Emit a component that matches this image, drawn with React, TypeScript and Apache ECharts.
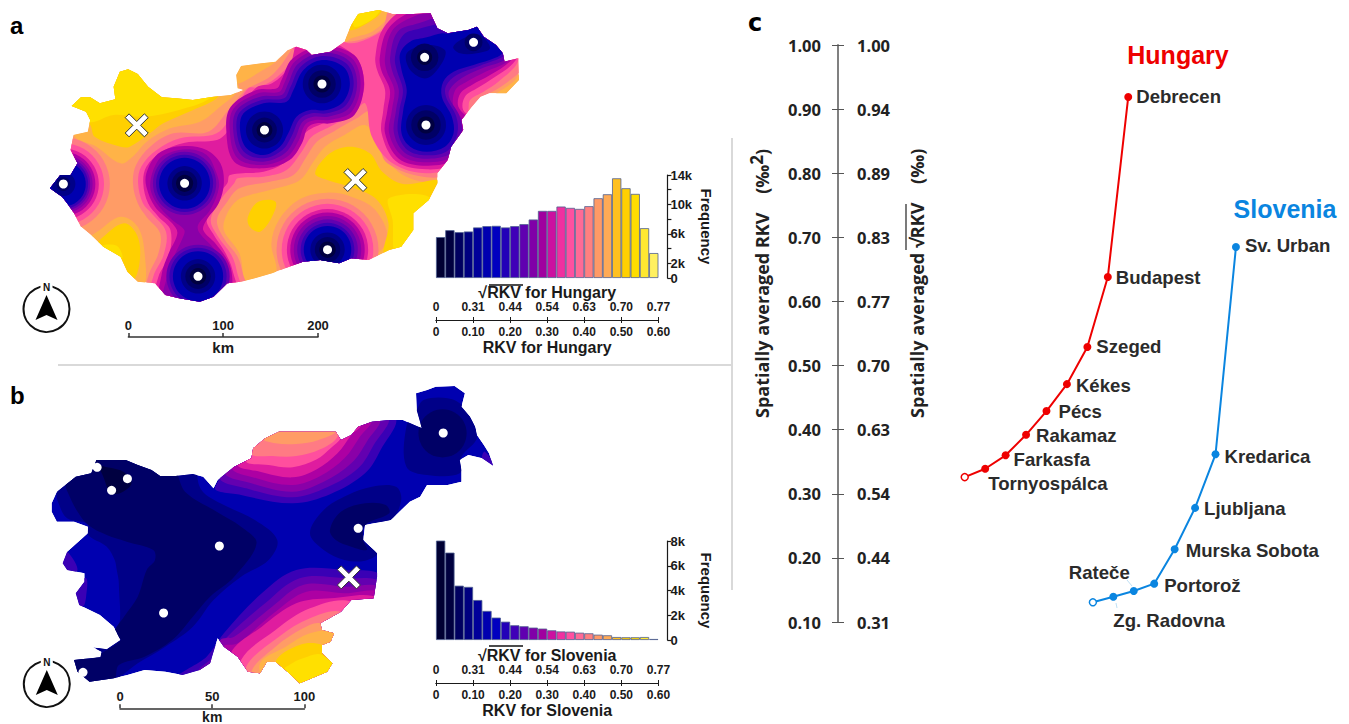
import React, { useEffect, useRef } from "react";
import * as echarts from "echarts";

// ---------- histogram data ----------
const BIN_EDGES = ["0","0.025","0.05","0.075","0.1","0.125","0.15","0.175","0.2","0.225","0.25","0.275","0.3","0.325","0.35","0.375","0.4","0.425","0.45","0.475","0.5","0.525","0.55","0.575"];
const HU_FREQ = [5560,6500,6230,6320,6870,7050,7090,6870,7050,7320,7950,9120,9120,9710,9530,9390,9760,10840,11380,13550,12200,11430,6770,3390];
const SL_FREQ = [8030,7060,4390,4290,3230,2350,1810,1480,1190,1110,1000,920,780,690,670,590,540,430,380,240,220,220,240,80];
const HU_FREQ_TICKS = ["0","2k","","6k","","10k","","14k"];
const SL_FREQ_TICKS = ["0","2k","4k","6k","8k"];
const SQRT_TICKS = ["0","0.31","0.44","0.54","0.63","0.70","0.77"];
const RKV_TICKS = ["0","0.10","0.20","0.30","0.40","0.50","0.60"];

// ---------- panel c ----------
const RIGHT_TICKS = ["0.31","0.44","0.54","0.63","0.70","0.77","0.83","0.89","0.94","1.00"];
const HU_STATIONS = ["","Tornyospálca","Farkasfa","Rakamaz","Pécs","Kékes","Szeged","Budapest","Debrecen"];
const HU_RANK = [6.2,7.2,8.2,9.2,10.2,11.2,12.2,13.2,14.2];
const HU_RKV = [0.326,0.339,0.360,0.392,0.429,0.471,0.529,0.638,0.919];
const SL_STATIONS = ["","Zg. Radovna","Rateče","Portorož","Murska Sobota","Ljubljana","Kredarica","Sv. Urban"];
const SL_RANK = [12.47,13.47,14.47,15.47,16.47,17.47,18.47,19.47];
const SL_RKV = [0.1307,0.1395,0.1483,0.1598,0.2134,0.278,0.3616,0.685];

// ---------- maps (map units) ----------
const HU_OUTLINE = [[145,565],[175,525],[205,525],[225,490],[205,450],[213,405],[255,395],[262,360],[250,335],[208,318],[235,292],[262,292],[290,310],[335,298],[330,260],[348,215],[372,208],[400,222],[430,260],[470,292],[510,295],[560,300],[620,290],[670,285],[705,270],[690,265],[686,225],[700,198],[760,190],[800,185],[835,150],[860,140],[890,150],[905,165],[960,155],[1000,125],[1020,75],[1040,42],[1100,30],[1140,42],[1200,42],[1250,40],[1270,85],[1300,100],[1360,90],[1385,80],[1405,110],[1440,135],[1460,160],[1465,185],[1505,175],[1507,240],[1470,280],[1420,280],[1395,290],[1370,320],[1340,360],[1345,390],[1310,440],[1300,480],[1270,520],[1270,550],[1245,600],[1200,640],[1200,690],[1165,740],[1130,750],[1070,780],[1020,775],[985,790],[930,780],[880,785],[840,800],[790,820],[740,835],[700,845],[660,850],[620,890],[580,905],[520,895],[480,885],[450,850],[400,845],[370,815],[350,770],[300,740],[270,710],[235,680],[215,640],[195,610],[180,590]];
const HU_POLYS = [
  [13,[[213,405],[280,440],[350,490],[385,470],[426,425],[494,385],[581,365],[639,320],[692,270],[680,240],[340,190],[200,280]]],
  [14,[[200,300],[262,375],[275,410],[350,440],[377,440],[435,400],[474,370],[561,330],[629,295],[640,260],[340,190]]],
  [15,[[190,290],[255,365],[330,345],[420,350],[520,330],[610,295],[620,260],[340,190]]],
  [13,[[290,690],[350,650],[400,680],[420,760],[415,860],[340,830],[260,720]]],
  [14,[[290,720],[360,670],[400,710],[405,790],[385,840],[340,790],[280,740]]],
  [15,[[295,738],[340,738],[355,775],[320,765]]],
  [13,[[690,600],[726,585],[803,565],[871,540],[910,485],[944,440],[1000,405],[1060,375],[1095,420],[1125,480],[1170,525],[1240,548],[1290,545],[1300,800],[1070,800],[1125,720],[1090,630],[1020,590],[950,578],[870,598],[810,660],[788,730],[800,820],[720,860],[695,760],[650,690],[660,640]]],
  [14,[[915,520],[958,460],[1016,440],[1074,460],[1110,515],[1170,552],[1290,550],[1280,780],[1120,770],[1128,670],[1095,600],[1030,565],[950,540]]],
  [14,[[720,650],[750,605],[800,605],[790,650],[755,695],[725,680]]],
  [15,[[1130,595],[1250,595],[1220,700],[1150,760],[1140,660]]],
  [13,[[1000,130],[1040,20],[1140,20],[1125,55],[1080,95],[1020,115]]],
  [14,[[1015,90],[1030,20],[1110,20],[1095,50]]],
  [15,[[1028,80],[1040,20],[1105,20],[1085,55]]],
  [13,[[680,250],[760,212],[815,170],[820,130],[680,170]]],
  [13,[[1428,295],[1491,245],[1515,215],[1520,300]]],
  [11,[[711,270],[663,330],[605,395],[503,400],[436,440],[395,495],[386,550],[400,610],[425,650],[465,700],[460,760],[430,830],[425,900],[720,900],[705,820],[690,770],[650,715],[630,660],[660,605],[695,565],[784,545],[852,525],[890,470],[920,425],[968,395],[1036,355],[1075,335],[1100,430],[1125,490],[1239,532],[1320,510],[1384,310],[1413,285],[1462,255],[1520,195],[1520,20],[1140,20],[1110,85],[1060,115],[1000,125],[960,110],[850,120],[845,150],[790,225],[725,262]]],
  [10,[[721,265],[682,330],[629,400],[523,415],[455,450],[410,500],[401,550],[415,610],[440,640],[482,695],[475,765],[445,830],[440,900],[700,900],[688,815],[672,765],[632,708],[612,660],[640,600],[680,550],[690,535],[765,530],[832,510],[876,455],[905,410],[958,380],[1021,345],[1060,310],[1080,410],[1140,490],[1239,520],[1320,490],[1360,330],[1365,300],[1404,275],[1447,245],[1505,180],[1510,20],[1180,20],[1135,70],[1090,105],[1020,130],[960,110],[850,120],[855,170],[800,235],[750,262]]],
  [9,[[745,262],[700,325],[660,395],[630,420],[537,428],[470,455],[425,500],[416,550],[430,610],[460,650],[495,690],[490,770],[460,830],[455,900],[685,900],[675,810],[655,760],[618,700],[600,660],[620,600],[660,550],[668,525],[765,515],[823,490],[861,440],[890,395],[949,365],[1007,335],[1045,300],[1058,250],[1040,180],[1000,145],[950,120],[870,120],[840,200],[790,250]]],
  [8,[[450,470],[490,445],[545,438],[600,450],[640,490],[650,550],[635,610],[600,660],[590,690],[625,730],[665,790],[675,850],[665,900],[470,900],[470,820],[490,760],[515,700],[500,670],[450,620],[425,560],[425,520]]],
  [7,[[460,480],[500,455],[550,448],[600,465],[625,510],[636,560],[610,630],[575,675],[580,700],[620,745],[650,800],[665,850],[650,900],[480,900],[485,830],[505,770],[530,715],[535,690],[500,660],[455,610],[436,555]]],
  [8,[[657,390],[670,320],[745,270],[804,265],[817,241],[849,176],[935,138],[1029,166],[1057,250],[1029,345],[959,370],[920,370],[894,382],[877,429],[841,480],[765,505],[680,485]]],
  [7,[[667,390],[679,325],[750,280],[811,275],[826,248],[857,184],[935,148],[1021,174],[1047,250],[1021,335],[956,360],[915,360],[886,374],[867,422],[834,470],[765,495],[690,475]]],
  [6,[[677,390],[688,330],[755,290],[818,285],[835,255],[865,192],[935,158],[1013,182],[1037,250],[1013,325],[953,350],[910,350],[878,366],[857,415],[827,460],[765,485],[700,465]]],
  [5,[[687,390],[697,335],[760,300],[825,295],[843,262],[873,200],[935,168],[1005,190],[1027,250],[1005,315],[950,340],[905,340],[870,358],[847,408],[820,450],[765,475],[708,455]]],
  [4,[[697,390],[707,340],[765,310],[832,305],[852,270],[881,210],[935,180],[997,200],[1016,250],[997,305],[949,330],[900,330],[861,350],[837,400],[813,440],[765,465],[716,445]]],
  [9,[[1110,90],[1170,30],[1250,15],[1460,25],[1510,145],[1490,190],[1438,230],[1385,265],[1350,290],[1345,330],[1385,370],[1370,430],[1330,490],[1239,508],[1150,484],[1108,400],[1113,330],[1118,270],[1095,210],[1090,170]]],
  [8,[[1125,90],[1185,40],[1260,20],[1450,30],[1500,150],[1480,185],[1423,225],[1370,255],[1337,280],[1331,320],[1370,370],[1360,420],[1325,478],[1239,497],[1158,476],[1118,400],[1125,330],[1132,270],[1107,210],[1103,170]]],
  [7,[[1140,90],[1200,50],[1270,30],[1440,40],[1490,150],[1472,185],[1410,215],[1355,245],[1322,270],[1317,320],[1350,370],[1350,410],[1318,468],[1239,487],[1168,468],[1130,400],[1138,330],[1145,270],[1122,210],[1118,170]]],
  [6,[[1155,95],[1215,70],[1280,50],[1420,40],[1480,150],[1470,178],[1400,205],[1340,235],[1305,270],[1305,295],[1335,350],[1340,400],[1310,460],[1239,476],[1175,458],[1144,400],[1150,330],[1158,270],[1138,210],[1133,170]]],
  [5,[[1171,105],[1222,85],[1283,70],[1400,50],[1470,140],[1468,165],[1394,197],[1326,225],[1295,258],[1295,290],[1325,350],[1328,400],[1300,452],[1239,466],[1183,450],[1156,400],[1160,330],[1170,270],[1152,210],[1147,170]]],
  [4,[[1191,125],[1239,112],[1283,100],[1307,100],[1375,70],[1408,115],[1447,130],[1460,155],[1442,172],[1375,195],[1317,215],[1287,245],[1283,290],[1312,350],[1317,400],[1292,440],[1239,455],[1191,440],[1166,400],[1171,330],[1181,270],[1166,210],[1162,160]]],
  [3,[[1181,160],[1239,135],[1292,150],[1283,190],[1239,235],[1191,210]]],
  [3,[[1316,140],[1355,110],[1394,105],[1423,145],[1384,160],[1336,160]]],
];
const HU_DISCS = [
  [184,552,[[11,135],[10,118],[9,103],[8,93],[7,85],[6,78],[5,72],[4,65],[3,35],[2,20]]],
  [536,550,[[6,92],[5,83],[4,74],[3,50],[2,37],[1,25]]],
  [575,829,[[6,92],[5,83],[4,73],[3,50],[2,37],[1,24]]],
  [768,390,[[3,54],[2,36],[1,23]]],
  [935,252,[[3,56],[2,40],[1,25]]],
  [951,749,[[11,148],[10,133],[9,118],[8,108],[7,98],[6,88],[5,78],[4,69],[3,50],[2,37],[1,24]]],
  [1237,375,[[3,58],[2,43],[1,25]]],
  [1233,172,[[2,40],[1,22]]],
  [1375,127,[[2,26]]],
];
const HU_CAPS = [];
const HU_POINTS = [[184,552],[536,550],[575,829],[768,390],[935,252],[951,749],[1237,375],[1233,172],[1375,127]];
const HU_CROSS = [[397,376],[1032,540]];

const SL_OUTLINE = [[150,425],[150,400],[165,365],[190,345],[220,320],[265,310],[280,270],[300,270],[365,270],[400,285],[440,300],[465,318],[510,318],[560,312],[590,320],[620,355],[632,330],[680,290],[730,265],[735,235],[770,205],[810,185],[860,185],[920,185],[975,185],[990,210],[1020,195],[1040,170],[1080,155],[1130,150],[1170,150],[1215,170],[1225,175],[1210,120],[1208,70],[1240,60],[1265,50],[1320,48],[1350,70],[1340,110],[1365,140],[1380,170],[1385,195],[1405,225],[1420,250],[1432,287],[1400,265],[1360,255],[1335,270],[1340,300],[1340,335],[1300,345],[1240,345],[1220,380],[1190,395],[1165,420],[1135,450],[1060,465],[1055,510],[1095,550],[1095,620],[1085,685],[1020,690],[990,725],[930,760],[935,780],[970,790],[960,815],[935,825],[935,850],[965,880],[950,905],[905,925],[870,940],[840,910],[800,875],[775,875],[755,910],[720,905],[690,860],[650,830],[632,805],[610,880],[580,900],[530,915],[480,905],[420,900],[370,915],[330,925],[260,935],[225,905],[215,870],[262,865],[292,862],[295,845],[270,832],[310,838],[350,810],[330,770],[290,735],[230,705],[220,670],[245,635],[245,610],[195,600],[182,580],[195,545],[255,490],[255,470],[215,455],[165,455]];
const SL_POLYS = [
  [3,[[190,335],[190,240],[571,240],[571,300],[585,360],[640,400],[740,450],[805,510],[780,570],[700,620],[620,690],[560,770],[480,830],[400,880],[330,930],[200,960],[180,860],[270,840],[340,790],[345,640],[339,600],[333,570],[310,530],[256,495],[255,462],[195,445],[172,405],[165,370]]],
  [2,[[198,370],[222,420],[256,465],[310,495],[368,515],[445,540],[450,570],[426,600],[400,680],[360,740],[330,790],[350,810],[295,850],[270,865],[215,870],[230,960],[330,930],[345,885],[420,860],[500,810],[560,740],[610,680],[680,620],[745,520],[700,470],[629,425],[542,370],[518,320],[505,240],[190,240],[190,345]]],
  [1,[[276,265],[290,285],[358,305],[382,340],[348,370],[319,365],[300,320]]],
  [3,[[900,490],[940,420],[1010,375],[1080,350],[1150,350],[1165,390],[1135,450],[1060,465],[1055,510],[1095,550],[1060,572],[1000,570],[940,540]]],
  [2,[[958,480],[990,425],[1060,400],[1120,405],[1130,430],[1060,465],[1055,510],[1065,540],[1020,530],[975,510]]],
  [3,[[1180,170],[1180,290],[1240,315],[1335,310],[1340,260],[1385,200],[1345,110],[1300,85],[1230,90],[1210,120]]],
  [5,[[180,540],[200,550],[225,600],[195,610],[170,590]]],
  [5,[[250,625],[250,680],[240,710],[210,690],[215,650]]],
  [5,[[1408,245],[1440,295],[1400,268]]],
  [5,[[625,350],[700,375],[850,400],[960,372],[1060,310],[1105,240],[1145,140],[860,60]]],
  [6,[[640,320],[715,355],[850,382],[950,352],[1040,295],[1085,225],[1125,140],[860,60]]],
  [7,[[655,305],[730,340],[850,365],[940,335],[1020,280],[1065,215],[1100,145],[860,60]]],
  [8,[[675,290],[745,325],[850,345],[930,318],[1000,265],[1045,200],[1075,150],[860,60]]],
  [9,[[690,280],[755,305],[850,322],[920,298],[980,250],[1020,195],[1045,165],[860,60]]],
  [10,[[715,270],[780,285],[850,292],[920,268],[960,235],[990,205],[1000,170],[860,60]]],
  [11,[[725,250],[790,258],[860,258],[930,238],[980,200],[975,150],[860,60],[700,150]]],
  [12,[[765,205],[800,220],[860,222],[925,210],[975,180],[860,100]]],
  [5,[[1110,620],[1000,600],[860,600],[760,670],[650,790],[600,860],[520,925],[900,1000],[1150,800]]],
  [6,[[1110,640],[1000,625],[870,625],[770,700],[660,800],[620,860],[580,905],[900,1000],[1150,800]]],
  [7,[[1110,655],[1000,650],[880,645],[790,710],[680,800],[640,810],[640,880],[900,1000],[1150,800]]],
  [8,[[1110,670],[1000,670],[890,665],[800,725],[690,820],[650,830],[680,900],[900,1000],[1150,800]]],
  [9,[[1100,685],[960,685],[860,700],[760,770],[670,850],[700,920],[900,1000],[1150,800]]],
  [10,[[1020,695],[900,715],[800,780],[700,870],[720,940],[900,1000],[1150,800]]],
  [11,[[990,725],[900,745],[810,800],[715,890],[740,950],[900,1000],[1100,800]]],
  [12,[[930,760],[880,775],[800,830],[730,905],[760,950],[900,1000],[1050,820]]],
  [13,[[970,785],[900,790],[830,830],[755,880],[780,950],[900,1000],[1050,850]]],
  [14,[[935,825],[870,825],[800,875],[830,940],[900,1000],[1020,880]]],
  [15,[[935,855],[880,865],[840,885],[825,900],[870,960],[1000,930]]],
];
const SL_DISCS = [[1285,190,[[2,70]]]];
const SL_CAPS = [];
const SL_POINTS = [[282,292],[370,326],[324,361],[637,528],[475,729],[241,907],[1040,475],[1287,189]];
const SL_CROSS = [[1013,622]];

// ---------- styles ----------
const LEVEL_COLORS = {1:"#000040",2:"#000066",3:"#000088",4:"#0000b0",5:"#3a00b5",6:"#6300b0",7:"#8a00a8",8:"#ad00a3",9:"#df1c9f",10:"#ff4f9e",11:"#ff7b84",12:"#ff9c66",13:"#ffb347",14:"#ffd000",15:"#ffe000"};
const BAR_COLORS = ["#000033","#00003f","#000060","#000080","#00009a","#0000b0","#0000c0","#2200b8","#4000b8","#6000b0","#8000a8","#a0009f","#cc10a0","#f030a0","#ff50a0","#ff6a96","#ff8080","#ff9a66","#ffaa55","#ffc020","#ffd000","#ffdd00","#ffe830","#fff060"];
const FONT = "Liberation Sans";
const INK = "#1a1a1a";
const CROSS = "path://M4,0 L12,8 L20,0 L24,4 L16,12 L24,20 L20,24 L12,16 L4,24 L0,20 L8,12 L0,4 Z";

function mapSeries(idx, outline, polys, discs, caps, baseLevel, points, cross) {
  const key = (l) => (l > baseLevel ? l - 100 : baseLevel - l);
  const shapes = [];
  polys.forEach((p) => shapes.push({ l: p[0], k: "p", pts: p[1] }));
  discs.forEach((d) => d[2].forEach((r) => shapes.push({ l: r[0], k: "d", x: d[0], y: d[1], r: r[1] })));
  caps.forEach((c) => shapes.push({ l: c[4], k: "c", a: [c[0], c[1]], b: [c[2], c[3]], r: c[5] }));
  const sorted = shapes.map((s, i) => ({ s, i })).sort((a, b) => key(a.s.l) - key(b.s.l) || a.i - b.i).map((o) => o.s);
  return [
    {
      type: "custom", xAxisIndex: idx, yAxisIndex: idx, clip: false, silent: true, z: 2,
      data: [[0, 0]],
      renderItem: (_p, api) => {
        const pt = (c) => api.coord(c);
        const o = outline.map(pt);
        const children = [{ type: "polygon", shape: { points: o }, style: { fill: LEVEL_COLORS[baseLevel] } }];
        sorted.forEach((s) => {
          const fill = LEVEL_COLORS[s.l];
          if (s.k === "p") children.push({ type: "polygon", shape: { points: s.pts.map(pt), smooth: 0.35 }, style: { fill } });
          else if (s.k === "d") {
            const c = pt([s.x, s.y]);
            children.push({ type: "circle", shape: { cx: c[0], cy: c[1], r: api.size([s.r, 0])[0] }, style: { fill } });
          } else {
            children.push({ type: "polyline", shape: { points: [pt(s.a), pt(s.b)] }, style: { fill: null, stroke: fill, lineWidth: 2 * api.size([s.r, 0])[0], lineCap: "round" } });
          }
        });
        return { type: "group", clipPath: { type: "polygon", shape: { points: o } }, children };
      },
    },
    { type: "scatter", xAxisIndex: idx, yAxisIndex: idx, z: 5, silent: true, symbolSize: 9, itemStyle: { color: "#fff", opacity: 1 }, data: points },
    { type: "scatter", xAxisIndex: idx, yAxisIndex: idx, z: 5, silent: true, symbol: CROSS, symbolSize: 23, itemStyle: { color: "#fff", borderColor: "#333", borderWidth: 1, opacity: 1 }, data: cross },
  ];
}

function histSeries(idx, values) {
  return {
    type: "bar", xAxisIndex: idx, yAxisIndex: idx, barCategoryGap: 0, silent: true,
    data: values.map((v, i) => ({ value: v, itemStyle: { color: BAR_COLORS[i], borderColor: "#4f5f90", borderWidth: 0.8 } })),
  };
}

const hiddenAxis = (gridIndex, extra = {}) => ({ show: false, type: "value", gridIndex, splitLine: { show: false }, ...extra });
const boldLabel = (size) => ({ color: INK, fontFamily: FONT, fontWeight: "bold", fontSize: size });

function dualAxes(gridIndex, region) {
  const base = { type: "value", gridIndex, min: 0, max: 0.6, interval: 0.1, splitLine: { show: false }, nameLocation: "middle", nameGap: 19, nameTextStyle: boldLabel(16), axisLine: { lineStyle: { color: INK, width: 1 } }, axisTick: { length: 3, lineStyle: { color: INK, width: 1 } } };
  const idx = (v) => Math.round(v * 10);
  return [
    { ...base, position: "top", name: "√RKV for " + region, axisLabel: { ...boldLabel(12), margin: 6, formatter: (v) => SQRT_TICKS[idx(v)] } },
    { ...base, position: "bottom", name: "RKV for " + region, axisLabel: { ...boldLabel(12), margin: 6, formatter: (v) => RKV_TICKS[idx(v)] } },
  ];
}

function scaleAxis(gridIndex, max, interval, nameSize, nameGap) {
  return { type: "value", gridIndex, position: "bottom", min: 0, max, interval, splitLine: { show: false }, name: "km", nameLocation: "middle", nameGap, nameTextStyle: boldLabel(nameSize), axisLine: { lineStyle: { color: "#333", width: 1.5 } }, axisTick: { inside: true, length: 4, lineStyle: { color: "#333", width: 1.5 } }, axisLabel: { ...boldLabel(13), inside: true, margin: 5 } };
}

function compass(cx, cy) {
  return [
    { type: "circle", shape: { cx, cy, r: 23 }, style: { fill: "#fff", stroke: "#111", lineWidth: 2 } },
    { type: "rect", shape: { x: cx - 6, y: cy - 28, width: 12, height: 11 }, style: { fill: "#fff" } },
    { type: "text", x: cx, y: cy - 22, style: { text: "N", fill: "#111", fontFamily: FONT, fontWeight: "bold", fontSize: 10, align: "center", verticalAlign: "middle" } },
    { type: "polygon", shape: { points: [[cx, cy - 14], [cx + 11, cy + 11], [cx, cy + 6], [cx - 11, cy + 11]] }, style: { fill: "#000" } },
  ];
}

const ROT_FONT = "Open Sans";
const letter = (t, x, y) => ({ type: "text", x, y, style: { text: t, fill: "#000", fontFamily: t === "c" ? "DejaVu Sans" : FONT, fontWeight: "bold", fontSize: 24, align: "left", verticalAlign: "middle" } });
const vline = (x1, y1, x2, y2, stroke, lineWidth) => ({ type: "line", shape: { x1, y1, x2, y2 }, style: { stroke, lineWidth } });
const vtext = (rich, x, y) => ({ type: "text", x, y, rotation: Math.PI / 2, style: { text: rich, rich: { a: { fontFamily: ROT_FONT, fontWeight: "bold", fontSize: 18, fill: "#222" }, s: { fontFamily: ROT_FONT, fontWeight: "bold", fontSize: 17, fill: "#222", padding: [0, 0, 12, 0] } }, align: "left", verticalAlign: "middle" } });

const HU_OFFSETS = [null,[-6,15],[-1,4],[1,1],[3,0],[0,1],[0,0],[-1,0],[-1,0]];
const SL_OFFSETS = [null,[-9,24],[-74,-19],[1,2],[2,1],[0,1],[0,2],[0,-1]];

function curve(name, color, stations, xs, ys, offsets) {
  return {
    type: "line", name, xAxisIndex: 10, yAxisIndex: 8, silent: true, z: 4,
    lineStyle: { color, width: 2 }, symbol: "circle", symbolSize: 8,
    itemStyle: { color },
    data: ys.map((v, i) => ({
      value: [xs[i], v],
      ...(i === 0 ? { symbolSize: 7, itemStyle: { color: "#fff", borderColor: color, borderWidth: 1.5 } } : {}),
      label: stations[i] ? { show: true, position: "right", formatter: stations[i], offset: offsets[i], color: "#2b2b2b", fontFamily: FONT, fontWeight: "bold", fontSize: 18.6 } : { show: false },
    })),
  };
}

const TICK_LABEL = { color: "#222", fontFamily: "Open Sans", fontWeight: "bold", fontSize: 16.5 };

function buildOption() {
  return {
    animation: false,
    backgroundColor: "#fff",
    grid: [
      { left: 0, top: 0, width: 540, height: 360 },
      { left: 0, top: 370, width: 540, height: 354 },
      { left: 436, top: 175, width: 222.4, height: 103 },
      { left: 436, top: 541, width: 222.4, height: 99 },
      { left: 436, top: 319, width: 222.4, height: 1 },
      { left: 436, top: 682, width: 222.4, height: 1 },
      { left: 128.4, top: 336, width: 189.6, height: 1 },
      { left: 120, top: 708, width: 184.4, height: 1 },
      { left: 838, top: 45, width: 512.5, height: 577 },
    ],
    xAxis: [
      hiddenAxis(0, { min: 0, max: 1568 }),
      hiddenAxis(1, { min: 0, max: 1568 }),
      { show: false, type: "category", gridIndex: 2, data: BIN_EDGES },
      { show: false, type: "category", gridIndex: 3, data: BIN_EDGES },
      ...[dualAxes(4, "Hungary"), dualAxes(5, "Slovenia")].flat(),
      scaleAxis(6, 200, 100, 15, 3),
      scaleAxis(7, 100, 50, 14, 0),
      hiddenAxis(8, { min: 0, max: 25 }),
    ],
    yAxis: [
      hiddenAxis(0, { min: 0, max: 1080, inverse: true }),
      hiddenAxis(1, { min: 0, max: 1062, inverse: true }),
      ...[[2, 14000, HU_FREQ_TICKS], [3, 8000, SL_FREQ_TICKS]].map(([g, max, ticks]) => ({
        type: "value", gridIndex: g, position: "right", offset: 9, min: 0, max, interval: 2000,
        splitLine: { show: false }, name: "Frequency", nameLocation: "middle", nameRotate: -90, nameGap: 32, nameTextStyle: boldLabel(15),
        axisLine: { show: true, lineStyle: { color: INK, width: 1.2 } }, axisTick: { show: true, length: 4, lineStyle: { color: INK, width: 1.2 } },
        axisLabel: { ...boldLabel(13), margin: 3, formatter: (v) => ticks[Math.round(v / 2000)] },
      })),
      hiddenAxis(4, { min: 0, max: 1 }), hiddenAxis(5, { min: 0, max: 1 }), hiddenAxis(6, { min: 0, max: 1 }), hiddenAxis(7, { min: 0, max: 1 }),
      {
        type: "value", gridIndex: 8, position: "left", min: 0.1, max: 1, interval: 0.1, splitLine: { show: false },
        axisLine: { show: true, lineStyle: { color: "#808080", width: 2 } },
        axisTick: { show: true, length: 6, lineStyle: { color: "#555", width: 1 } },
        axisLabel: { ...TICK_LABEL, margin: 17, formatter: (v) => v.toFixed(2) },
      },
      {
        type: "value", gridIndex: 8, position: "left", min: 0.1, max: 1, interval: 0.1, splitLine: { show: false },
        axisLine: { show: false },
        axisTick: { show: true, inside: true, length: 6, lineStyle: { color: "#555", width: 1 } },
        axisLabel: { ...TICK_LABEL, inside: true, margin: 19, formatter: (v) => RIGHT_TICKS[Math.round(v * 10) - 1] },
      },
    ],
    series: [
      ...mapSeries(0, HU_OUTLINE, HU_POLYS, HU_DISCS, HU_CAPS, 12, HU_POINTS, HU_CROSS),
      ...mapSeries(1, SL_OUTLINE, SL_POLYS, SL_DISCS, SL_CAPS, 4, SL_POINTS, SL_CROSS),
      histSeries(2, HU_FREQ),
      histSeries(3, SL_FREQ),
      curve("Hungary", "#ee0000", HU_STATIONS, HU_RANK, HU_RKV, HU_OFFSETS),
      curve("Slovenia", "#0a85e0", SL_STATIONS, SL_RANK, SL_RKV, SL_OFFSETS),
    ],
    graphic: [
      letter("a", 10, 25), letter("b", 10, 395), letter("c", 748, 23),
      vline(58, 365, 732, 365, "#d9d9d9", 2),
      vline(732, 138, 732, 590, "#d9d9d9", 2),
      ...compass(46.5, 309), ...compass(46.8, 684),
      vline(489, 285, 523, 285, "#111", 1.3),
      vline(489, 646, 523, 646, "#111", 1.3),
      vtext("{a|Spatially averaged RKV    (‰}{s|2}{a|)}", 762, 418),
      vtext("{a|Spatially averaged √RKV    (‰)}", 917, 418),
      vline(906, 204, 906, 250, "#222", 1.2),
      vline(1127, 580, 1132, 586, "#bfe0f5", 1),
      vline(1116, 603, 1117, 608, "#bfe0f5", 1),
      { type: "text", x: 1178, y: 55, style: { text: "Hungary", fill: "#ee0000", fontFamily: FONT, fontWeight: "bold", fontSize: 25, align: "center", verticalAlign: "middle" } },
      { type: "text", x: 1285, y: 209, style: { text: "Slovenia", fill: "#0a85e0", fontFamily: FONT, fontWeight: "bold", fontSize: 25, align: "center", verticalAlign: "middle" } },
    ],
  };
}

export default function App() {
  const ref = useRef(null);
  useEffect(() => {
    document.body.style.margin = "0";
    const chart = echarts.init(ref.current, null, { renderer: "svg" });
    chart.setOption(buildOption());
    return () => chart.dispose();
  }, []);
  return <div ref={ref} style={{ position: "absolute", left: 0, top: 0, width: 1349, height: 724 }} />;
}
